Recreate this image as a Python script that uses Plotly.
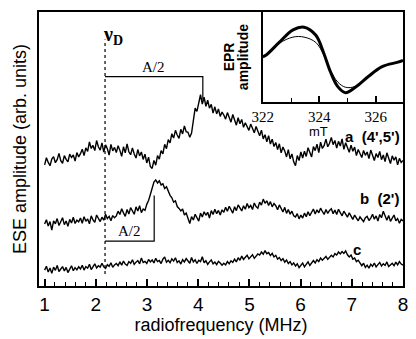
import numpy as np
import plotly.graph_objects as go

# radiofrequency grid (MHz), 201 points from 1 to 8 (0.035 MHz step)
freq = np.linspace(1.0, 8.0, 201)

trace_a = [44.2, 46.8, 45.1, 43.9, 46.3, 47.2, 45.0, 46.1, 48.4, 45.7, 44.8, 47.6, 46.2, 45.3, 48.1, 46.9, 47.8, 45.6, 48.7, 47.1,
           48.3, 49.9, 47.6, 50.4, 49.1, 52.6, 50.2, 51.3, 49.4, 53.1, 50.8, 49.6, 52.2, 48.9, 51.5, 50.1, 47.8, 51.7, 49.3, 50.6,
           48.7, 51.2, 49.5, 47.3, 50.8, 48.6, 51.9, 49.0, 47.9, 50.4, 48.2, 46.7, 49.8, 47.5, 48.9, 46.2, 48.1, 44.9, 47.0, 43.6,
           42.9, 45.8, 44.1, 47.6, 46.3, 49.4, 48.2, 51.7, 50.1, 53.4, 52.2, 55.6, 54.0, 56.8, 55.1, 53.9, 57.2, 55.5, 58.4, 56.3,
           56.1, 54.3, 55.8, 60.2, 64.9, 63.7, 67.2, 69.8, 66.4, 68.9, 65.6, 67.8, 64.9, 66.3, 63.1, 65.4, 62.8, 64.6, 61.9, 63.5,
           62.4, 60.9, 63.3, 61.5, 59.8, 62.6, 60.3, 58.7, 61.4, 59.2, 60.8, 57.9, 59.6, 58.3, 56.8, 59.1, 57.4, 55.9, 58.2, 56.5,
           54.8, 56.9, 53.7, 55.2, 52.6, 54.9, 51.8, 53.6, 50.9, 52.4, 49.8, 51.9, 48.6, 50.7, 49.3, 47.1, 49.8, 46.4, 48.2, 45.3,
           43.9, 47.6, 45.8, 48.9, 46.7, 49.2, 47.3, 50.5, 48.8, 47.1, 50.9, 49.4, 51.8, 48.7, 52.5, 50.2, 51.3, 53.6, 50.8, 52.1,
           54.2, 51.6, 53.1, 50.3, 52.8, 51.1, 53.7, 49.9, 52.3, 50.6, 48.8, 51.4, 49.2, 50.7, 47.6, 49.8, 48.1, 46.9, 49.5, 47.7,
           48.9, 46.5, 49.6, 47.2, 45.8, 48.3, 46.9, 49.1, 46.1, 47.8, 45.4, 48.6, 46.3, 44.7, 47.5, 45.9, 47.1, 44.2, 46.6, 45.1,
           45.8]

trace_b = [22.6, 24.2, 21.9, 23.5, 20.4, 23.8, 22.7, 24.6, 22.1, 23.3, 24.9, 22.4, 23.7, 21.8, 24.3, 23.0, 25.1, 22.8, 24.0, 23.4,
           24.8, 22.9, 25.3, 23.6, 24.5, 22.7, 25.6, 24.1, 23.2, 25.9, 24.4, 23.5, 25.1, 24.0, 26.2, 24.6, 25.4, 23.8, 25.7, 24.9,
           25.6, 27.3, 26.1, 28.2, 26.7, 25.4, 27.9, 26.3, 28.6, 27.1, 26.2, 28.9, 27.4, 29.3, 26.8, 28.1, 27.6, 29.8, 31.2, 33.4,
           36.2, 37.9, 38.7, 37.6, 38.4, 36.9, 37.3, 35.6, 36.2, 34.4, 33.1, 32.2, 30.6, 31.1, 29.0, 28.3, 27.4, 28.1, 25.9, 26.6,
           24.2, 22.8, 25.3, 24.1, 26.2, 24.9, 23.7, 26.6, 25.2, 27.1, 25.8, 26.9, 24.8, 27.5, 26.1, 28.0, 26.4, 27.6, 25.9, 27.8,
           26.9, 28.7, 27.3, 29.1, 27.8, 26.6, 28.9, 27.5, 29.6, 28.2, 27.4, 29.3, 28.0, 30.1, 28.6, 29.4, 27.9, 30.3, 29.0, 28.4,
           30.6, 29.5, 31.7, 30.2, 31.1, 29.4, 30.8, 28.9, 30.1, 29.3, 27.8, 29.6, 28.2, 27.0, 28.7, 26.5, 27.9, 26.2, 27.3, 25.6,
           25.2, 26.4, 24.5, 25.9, 24.8, 26.6, 25.3, 27.1, 25.7, 26.9, 28.1, 26.3, 27.8, 26.7, 28.4, 27.2, 26.1, 27.9, 26.5, 27.6,
           28.2, 26.4, 27.7, 26.1, 28.0, 26.8, 25.6, 27.3, 26.2, 25.1, 26.7, 25.4, 24.3, 25.9, 24.6, 23.8, 25.2, 24.1, 23.5, 24.9,
           25.4, 23.9, 24.8, 26.2, 24.4, 25.6, 23.7, 26.1, 24.9, 27.3, 25.2, 24.0, 25.7, 23.6, 24.8, 25.9, 23.8, 24.6, 22.9, 24.3,
           23.7]

trace_c = [5.8, 7.2, 5.1, 6.6, 4.6, 6.9, 5.7, 7.5, 5.3, 6.4, 7.1, 5.5, 6.8, 4.9, 6.3, 7.4, 5.6, 6.7, 5.9, 7.0,
           6.2, 7.6, 5.8, 7.1, 6.5, 7.9, 6.0, 7.3, 8.1, 6.6, 7.4, 6.9, 8.3, 7.0, 6.4, 7.8, 7.2, 8.5, 6.8, 7.7,
           8.2, 7.4, 8.8, 7.6, 9.1, 8.0, 7.5, 8.9, 8.3, 9.6, 7.9, 8.7, 9.3, 8.1, 10.2, 8.6, 9.0, 8.2, 9.7, 8.8,
           9.5, 8.4, 10.1, 8.9, 9.3, 8.2, 9.8, 10.6, 8.7, 9.4, 8.5, 9.9, 9.1, 10.3, 8.6, 9.2, 8.0, 9.6, 8.8, 10.0,
           9.1, 8.3, 10.4, 8.8, 9.6, 8.2, 9.4, 8.9, 10.7, 8.5, 9.2, 7.9, 8.8, 9.5, 8.1, 8.7, 7.8, 9.0, 8.4, 7.6,
           8.3, 7.7, 8.9, 8.1, 9.2, 8.6, 9.8, 8.8, 10.3, 9.4, 10.9, 9.7, 10.5, 11.2, 9.9, 10.6, 11.4, 10.1, 11.0, 11.7,
           11.3, 12.4, 11.6, 12.9, 11.8, 12.2, 11.1, 11.9, 10.6, 11.2, 9.8, 10.4, 9.3, 10.0, 8.7, 9.5, 8.2, 8.9, 7.7, 8.4,
           7.3, 8.1, 6.7, 7.6, 8.4, 7.0, 7.9, 8.8, 7.5, 8.6, 9.3, 8.4, 9.6, 8.9, 10.2, 9.4, 10.0, 10.8, 9.7, 10.5,
           11.2, 10.6, 11.8, 11.3, 12.4, 11.7, 12.6, 11.9, 12.8, 11.4, 10.6, 11.3, 9.8, 10.2, 8.9, 9.4, 8.1, 7.4, 8.3, 6.8,
           7.6, 6.5, 7.9, 7.2, 8.4, 7.0, 7.8, 8.6, 7.3, 8.1, 7.5, 8.8, 7.1, 7.9, 8.3, 7.4, 8.7, 7.7, 8.9, 8.0,
           7.6]

# inset EPR spectrum
field_mT = [322.0, 322.12, 322.58, 323.07, 323.46, 323.88, 324.16, 324.40,
            324.65, 324.93, 325.28, 325.74, 326.23, 326.79, 326.97]
epr_thick = [50, 52, 66, 80, 83, 74, 54, 33, 17, 10, 16, 28, 39, 44, 46]
epr_thin = [50, 52, 65, 72, 72, 66, 52, 35, 22, 16, 17, 28, 39, 44, 46]

# annotation positions
nu_D = 2.18
half_A_a = 4.09
half_A_b = 3.14

fig = go.Figure()
line = dict(color="black", width=1.4)
for y in (trace_a, trace_b, trace_c):
    fig.add_trace(go.Scatter(x=freq, y=y, mode="lines", line=line,
                             showlegend=False, hoverinfo="skip"))

fig.add_trace(go.Scatter(x=field_mT, y=epr_thin, mode="lines",
                         line=dict(color="black", width=1, shape="spline"),
                         xaxis="x2", yaxis="y2", showlegend=False))
fig.add_trace(go.Scatter(x=field_mT, y=epr_thick, mode="lines",
                         line=dict(color="black", width=3, shape="spline"),
                         xaxis="x2", yaxis="y2", showlegend=False))

# nu_D dashed line
fig.add_shape(type="line", x0=nu_D, x1=nu_D, y0=4.4, y1=90, xref="x", yref="y",
              line=dict(color="black", width=1.2, dash="dot"))
# A/2 bracket for a
fig.add_shape(type="path", xref="x", yref="y",
              path=f"M {nu_D},76.4 L {half_A_a},76.4 L {half_A_a},68",
              line=dict(color="black", width=1.2))
# A/2 bracket for b
fig.add_shape(type="path", xref="x", yref="y",
              path=f"M {nu_D},16.4 L {half_A_b},16.4 L {half_A_b},33",
              line=dict(color="black", width=1.2))

serif = "Liberation Serif"
sans = "Liberation Sans"
anns = [
    dict(x=(nu_D + half_A_a) / 2, y=76.4, text="A/2", yanchor="bottom",
         font=dict(family=serif, size=15)),
    dict(x=(nu_D + half_A_b) / 2, y=16.4, text="A/2", yanchor="bottom",
         font=dict(family=serif, size=15)),
    dict(x=nu_D, y=91.5, text="<b>ν<sub>D</sub></b>", xanchor="left", xshift=-4,
         yanchor="middle", font=dict(family=serif, size=20)),
    dict(x=8.0, y=54.4, text="<b>a  (4',5')</b>", xanchor="right", xshift=-1,
         font=dict(family=sans, size=15)),
    dict(x=8.0, y=32, text="<b>b  (2')</b>", xanchor="right", xshift=-2,
         font=dict(family=sans, size=15)),
    dict(x=7.1, y=13.5, text="<b>c</b>", xanchor="center",
         font=dict(family=sans, size=15)),
]
for a in anns:
    a.update(xref="x", yref="y", showarrow=False)
    a["font"]["color"] = "black"
    fig.add_annotation(**a)

# inset labels
inset_anns = [
    dict(x=323.98, y=0.565, xref="x2", text="mT", size=13, bold=False),
    dict(x=0.523, y=0.836, xref="paper", text="EPR", size=14, bold=True, angle=-90),
    dict(x=0.561, y=0.836, xref="paper", text="amplitude", size=14, bold=True, angle=-90),
]
for a in inset_anns:
    fig.add_annotation(x=a["x"], y=a["y"], xref=a["xref"], yref="paper",
                       text=f"<b>{a['text']}</b>" if a["bold"] else a["text"],
                       textangle=a.get("angle", 0), showarrow=False,
                       xanchor="center", yanchor="middle",
                       font=dict(family=sans, size=a["size"], color="black"))

fig.update_layout(
    width=416, height=339,
    margin=dict(l=39, r=8, t=12, b=52),
    paper_bgcolor="white", plot_bgcolor="white",
    font=dict(family=sans, color="black"),
    xaxis=dict(range=[0.89, 8.0], tickvals=[1, 2, 3, 4, 5, 6, 7, 8],
               ticks="inside", ticklen=7, tickwidth=1.5, tickcolor="black",
               minor=dict(dtick=0.2, tick0=1, ticks="inside", ticklen=4,
                          tickwidth=1.2, tickcolor="black"),
               showline=True, linewidth=2, linecolor="black", mirror=True,
               showgrid=False, zeroline=False,
               tickfont=dict(family=sans, size=19, color="black"),
               title=dict(text="radiofrequency (MHz)", standoff=4,
                          font=dict(family=sans, size=18, color="black"))),
    yaxis=dict(range=[0, 100], showticklabels=False, ticks="",
               showline=True, linewidth=2, linecolor="black", mirror=True,
               showgrid=False, zeroline=False,
               title=dict(text="ESE amplitude (arb. units)", standoff=6,
                          font=dict(family=sans, size=18, color="black"))),
    xaxis2=dict(domain=[0.615, 1.0], anchor="y2", range=[322, 326.97],
                tickvals=[322, 324, 326], ticks="inside", ticklen=6,
                tickwidth=1.5, tickcolor="black",
                minor=dict(dtick=1, tick0=322, ticks="inside", ticklen=4,
                           tickwidth=1.2, tickcolor="black"),
                showline=True, linewidth=2, linecolor="black", mirror=True,
                showgrid=False, zeroline=False,
                tickfont=dict(family=serif, size=15, color="black")),
    yaxis2=dict(domain=[0.673, 1.0], anchor="x2", range=[0, 100],
                showticklabels=False, ticks="",
                showline=True, linewidth=2, linecolor="black", mirror=True,
                showgrid=False, zeroline=False),
)

fig.write_html("out.html", config={"displayModeBar": False},
               post_script="document.body.style.margin='0';document.body.style.padding='0';")
